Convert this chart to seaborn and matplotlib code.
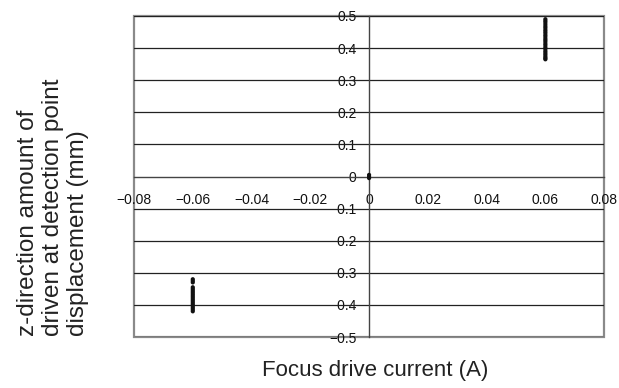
import matplotlib
matplotlib.use("Agg")
import matplotlib.pyplot as plt
import seaborn as sns
import pandas as pd
from matplotlib.patches import Rectangle

# Data
x_pos = [0.06] * 25
y_pos = [0.490, 0.485, 0.480, 0.474, 0.468, 0.463, 0.457, 0.452, 0.447, 0.441,
         0.436, 0.430, 0.425, 0.420, 0.414, 0.409, 0.403, 0.398, 0.392, 0.387,
         0.382, 0.377, 0.372, 0.368, 0.365]
x_neg = [-0.06] * 19
y_neg = [-0.320, -0.325, -0.330, -0.345, -0.350, -0.355, -0.360, -0.365, -0.370,
         -0.375, -0.380, -0.385, -0.390, -0.395, -0.400, -0.405, -0.410, -0.415, -0.420]
x_zero = [0.0, 0.0, 0.0]
y_zero = [-0.005, 0.0, 0.005]

x_ticks = [-0.08, -0.06, -0.04, -0.02, 0, 0.02, 0.04, 0.06, 0.08]
x_ticklabels = ["−0.08", "−0.06", "−0.04", "−0.02", "0", "0.02", "0.04", "0.06", "0.08"]
y_ticks = [-0.5, -0.4, -0.3, -0.2, -0.1, 0, 0.1, 0.2, 0.3, 0.4, 0.5]
y_ticklabels = ["−0.5", "−0.4", "−0.3", "−0.2", "−0.1", "0", "0.1", "0.2", "0.3", "0.4", "0.5"]

df = pd.DataFrame({"x": x_pos + x_neg + x_zero, "y": y_pos + y_neg + y_zero})

sns.set_theme(style="white")
plt.rcParams["font.family"] = ["Liberation Sans", "DejaVu Sans"]

fig = plt.figure(figsize=(6.19, 3.88), dpi=100)
ax = fig.add_axes([0.2165, 0.1314, 0.7595, 0.8274])

for yv in y_ticks:
    if yv != 0:
        ax.axhline(yv, color="#222222", lw=0.9, zorder=1)

sns.scatterplot(data=df, x="x", y="y", ax=ax, color="#111111", s=9,
                marker="o", edgecolor="none", zorder=3)

ax.set_xlim(-0.08, 0.08)
ax.set_ylim(-0.5, 0.5)
ax.set_xticks(x_ticks)
ax.set_xticklabels(x_ticklabels)
ax.set_yticks(y_ticks)
ax.set_yticklabels(y_ticklabels)

ax.spines["left"].set_position("zero")
ax.spines["bottom"].set_position("zero")
for s in ["left", "bottom"]:
    ax.spines[s].set_color("#444444")
    ax.spines[s].set_linewidth(1.0)
ax.spines["top"].set_visible(False)
ax.spines["right"].set_visible(False)

ax.add_patch(Rectangle((0, 0), 1, 1, transform=ax.transAxes, fill=False,
                       edgecolor="#8a8a8a", lw=1.6, clip_on=False, zorder=0))

ax.tick_params(axis="both", which="both", direction="in", length=4, width=1,
               color="#444444", labelsize=10, labelcolor="#111111")
ax.tick_params(axis="x", pad=12)
ax.tick_params(axis="y", pad=9)
ax.set_xlabel("")
ax.set_ylabel("")

fig.text(0.606, 0.044, "Focus drive current (A)", ha="center", va="center",
         fontsize=16, color="#222222")
fig.text(0.086, 0.465, "z-direction amount of\ndriven at detection point\ndisplacement (mm)",
         rotation=90, ha="center", va="center", fontsize=17.5, color="#222222",
         linespacing=1.18, multialignment="left")

fig.savefig("out.png", dpi=100)
